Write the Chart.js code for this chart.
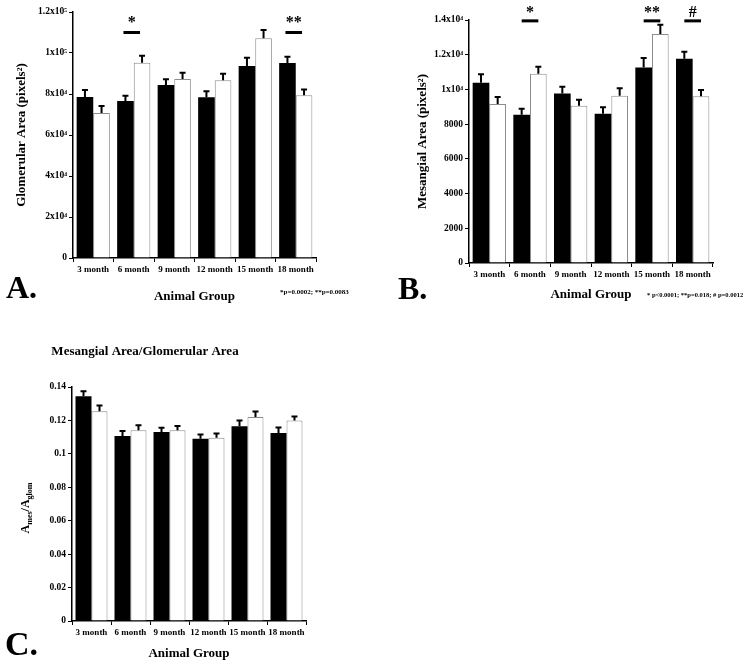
<!DOCTYPE html>
<html>
<head>
<meta charset="utf-8">
<script src="https://cdn.jsdelivr.net/npm/chart.js@4.4.0/dist/chart.umd.min.js"></script>
<style>
  body { margin: 0; background: #fff; }
  #wrap { position: relative; width: 750px; height: 667px; }
  canvas { position: absolute; }
</style>
</head>
<body>
<div id="wrap">
  <canvas id="chartA" style="left:0;top:0" width="370" height="310"></canvas>
  <canvas id="chartB" style="left:370px;top:0" width="380" height="310"></canvas>
  <canvas id="chartC" style="left:0;top:320px" width="380" height="347"></canvas>
</div>
<script>
// Data
const months = ['3 month', '6 month', '9 month', '12 month', '15 month', '18 month'];

// A. glomerular area
const glomBlack = [78500, 76600, 84400, 78400, 93700, 95100];
const glomBlackErr = [3400, 2600, 2800, 2900, 4000, 3100];
const glomWhite = [70700, 95300, 87300, 86700, 107200, 79400];
const glomWhiteErr = [3400, 3300, 3100, 3200, 4000, 2800];
const ticksA = ['0', '2x10⁴', '4x10⁴', '6x10⁴', '8x10⁴', '1x10⁵', '1.2x10⁵'];

// B. mesangial area
const mesBlack = [10380, 8540, 9770, 8600, 11270, 11770];
const mesBlackErr = [490, 350, 380, 370, 540, 400];
const mesWhite = [9160, 10900, 9060, 9630, 13190, 9600];
const mesWhiteErr = [400, 400, 350, 440, 540, 370];
const ticksB = ['0', '2000', '4000', '6000', '8000', '1x10⁴', '1.2x10⁴', '1.4x10⁴'];

// C. ratio
const ratioBlack = [0.1344, 0.1107, 0.1131, 0.1091, 0.1165, 0.1125];
const ratioBlackErr = [0.003, 0.003, 0.0025, 0.0025, 0.0035, 0.0033];
const ratioWhite = [0.1255, 0.1141, 0.1141, 0.1097, 0.1221, 0.1199];
const ratioWhiteErr = [0.0034, 0.003, 0.0025, 0.0025, 0.0033, 0.0025];
const ticksC = ['0', '0.02', '0.04', '0.06', '0.08', '0.1', '0.12', '0.14'];

// significance marks (group index + symbol)
const sigA = [{ group: 1, text: '*' }, { group: 5, text: '**' }];
const sigB = [{ group: 1, text: '*' }, { group: 4, text: '**' }, { group: 5, text: '#' }];

const serif = '"Liberation Serif", "Times New Roman", serif';

// upward error bars with a cap
const errorBars = {
    id: 'errorBars',
    afterDatasetsDraw(chart) {
        const ctx = chart.ctx, y = chart.scales.y;
        ctx.save();
        ctx.strokeStyle = '#000';
        ctx.lineWidth = 2;
        chart.data.datasets.forEach((ds, di) => {
            chart.getDatasetMeta(di).data.forEach((bar, i) => {
                const top = y.getPixelForValue(ds.data[i] + ds.errors[i]);
                ctx.beginPath();
                ctx.moveTo(bar.x, bar.y);
                ctx.lineTo(bar.x, top);
                ctx.moveTo(bar.x - 3, top);
                ctx.lineTo(bar.x + 3, top);
                ctx.stroke();
            });
        });
        ctx.restore();
    }
};

// significance brackets above the groups
const sigBars = {
    id: 'sig',
    afterDraw(chart, args, opts) {
        if (!opts.marks) return;
        const ctx = chart.ctx;
        const yPx = chart.scales.y.getPixelForValue(opts.level);
        const b0 = chart.getDatasetMeta(0).data, b1 = chart.getDatasetMeta(1).data;
        ctx.save();
        ctx.fillStyle = '#000';
        ctx.font = 'bold 16px ' + serif;
        ctx.textAlign = 'center';
        ctx.textBaseline = 'middle';
        opts.marks.forEach(m => {
            const x0 = b0[m.group].x + opts.shift, x1 = b1[m.group].x + opts.shift;
            ctx.fillRect(x0, yPx - 1.5, x1 - x0, 3);
            ctx.fillText(m.text, (x0 + x1) / 2, yPx - opts.gap);
        });
        ctx.restore();
    }
};

// panel letters, footnotes and other loose text
const decor = {
    id: 'decor',
    afterDraw(chart, args, opts) {
        const ctx = chart.ctx;
        ctx.save();
        ctx.fillStyle = '#000';
        (opts.items || []).forEach(it => {
            ctx.font = 'bold ' + it.size + 'px ' + serif;
            ctx.textAlign = it.align || 'left';
            ctx.textBaseline = it.baseline || 'alphabetic';
            ctx.fillText(it.text, it.x, it.y);
        });
        // rotated label with subscripts
        if (opts.subLabel) {
            const s = opts.subLabel;
            let total = 0;
            s.parts.forEach(p => {
                ctx.font = 'bold ' + p.size + 'px ' + serif;
                total += ctx.measureText(p.text).width;
            });
            ctx.translate(s.x, s.y);
            ctx.rotate(-Math.PI / 2);
            ctx.textAlign = 'left';
            ctx.textBaseline = 'alphabetic';
            let x = -total / 2;
            s.parts.forEach(p => {
                ctx.font = 'bold ' + p.size + 'px ' + serif;
                ctx.fillText(p.text, x, 4 + p.drop);
                x += ctx.measureText(p.text).width;
            });
        }
        ctx.restore();
    }
};

function panel(id, o) {
    return new Chart(document.getElementById(id), {
        type: 'bar',
        data: {
            labels: months,
            datasets: [
                { data: o.black, errors: o.blackErr, backgroundColor: '#000', borderColor: '#000', borderWidth: 0 },
                { data: o.white, errors: o.whiteErr, backgroundColor: '#fff', borderColor: '#8c8c8c', borderWidth: 1 }
            ]
        },
        options: {
            responsive: false,
            animation: false,
            devicePixelRatio: 1,
            layout: { padding: o.pad },
            datasets: { bar: { categoryPercentage: 0.82, barPercentage: 1 } },
            plugins: {
                legend: { display: false },
                tooltip: { enabled: false },
                sig: o.sig,
                decor: o.decor
            },
            scales: {
                x: {
                    afterFit: s => { s.height = o.xh; },
                    grid: { drawOnChartArea: false, offset: true, tickLength: 4, color: '#000' },
                    border: { color: '#000', width: 1.5 },
                    ticks: {
                        color: '#000', padding: 2, maxRotation: 0, autoSkip: false,
                        font: { family: serif, size: 9, weight: 'bold' }
                    },
                    title: {
                        display: true, text: 'Animal Group', color: '#000',
                        font: { family: serif, size: 13, weight: 'bold' },
                        padding: { top: 0, bottom: o.xtPad }
                    }
                },
                y: {
                    min: 0,
                    max: o.max,
                    afterFit: s => { s.width = o.yw; },
                    grid: { drawOnChartArea: false, tickLength: 4, color: '#000' },
                    border: { color: '#000', width: 1.5 },
                    ticks: {
                        stepSize: o.step, color: '#000', padding: 2,
                        font: { family: serif, size: 9.5, weight: 'bold' },
                        callback: (v, i) => o.ticks[i]
                    },
                    title: {
                        display: !!o.yTitle, text: o.yTitle || '', color: '#000',
                        font: { family: serif, size: 13, weight: 'bold' },
                        padding: { top: o.ytPad || 0, bottom: 0 }
                    }
                }
            }
        },
        plugins: [errorBars, sigBars, decor]
    });
}

panel('chartA', {
    black: glomBlack, blackErr: glomBlackErr, white: glomWhite, whiteErr: glomWhiteErr,
    max: 120000, step: 20000, ticks: ticksA,
    pad: { top: 12, right: 54, bottom: 0, left: 0 }, yw: 73, xh: 52, xtPad: 6,
    yTitle: 'Glomerular Area (pixels²)', ytPad: 14,
    sig: { marks: sigA, level: 110000, gap: 10, shift: -2 },
    decor: { items: [
        { text: 'A.', x: 6, y: 298, size: 32 },
        { text: '*p=0.0002; **p=0.0083', x: 280, y: 294, size: 7 }
    ] }
});

panel('chartB', {
    black: mesBlack, blackErr: mesBlackErr, white: mesWhite, whiteErr: mesWhiteErr,
    max: 14000, step: 2000, ticks: ticksB,
    pad: { top: 20, right: 37, bottom: 0, left: 0 }, yw: 99, xh: 47, xtPad: 8,
    yTitle: 'Mesangial Area (pixels²)', ytPad: 45,
    sig: { marks: sigB, level: 13950, gap: 8, shift: 0 },
    decor: { items: [
        { text: 'B.', x: 28, y: 299, size: 32 },
        { text: '* p<0.0001; **p=0.018; # p=0.0012', x: 277, y: 297, size: 6.5 }
    ] }
});

panel('chartC', {
    black: ratioBlack, blackErr: ratioBlackErr, white: ratioWhite, whiteErr: ratioWhiteErr,
    max: 0.14, step: 0.02, ticks: ticksC,
    pad: { top: 67, right: 74, bottom: 0, left: 0 }, yw: 72, xh: 46, xtPad: 6,
    sig: false,
    decor: {
        items: [
            { text: 'C.', x: 5, y: 335, size: 34 },
            { text: 'Mesangial Area/Glomerular Area', x: 145, y: 32, size: 13, align: 'center', baseline: 'middle' }
        ],
        subLabel: {
            x: 25, y: 188,
            parts: [
                { text: 'A', size: 12, drop: 0 },
                { text: 'mes', size: 8, drop: 3 },
                { text: '/A', size: 12, drop: 0 },
                { text: 'glom', size: 8, drop: 3 }
            ]
        }
    }
});
</script>
</body>
</html>
